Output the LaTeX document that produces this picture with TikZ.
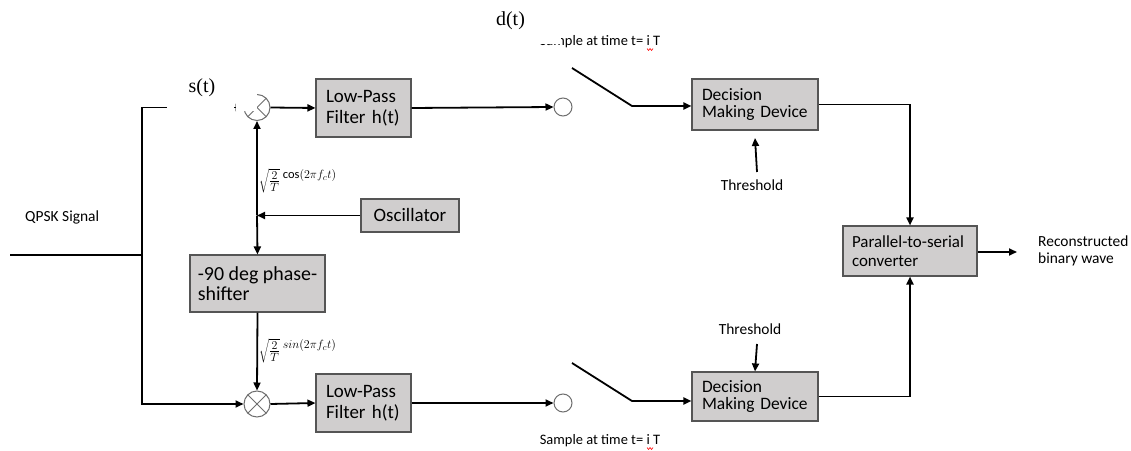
\documentclass[tikz,border=0pt]{standalone}
\usepackage{fontspec}
\setmainfont{Carlito}
\newfontfamily\timesfont{Liberation Serif}
\usetikzlibrary{arrows.meta}
\definecolor{boxfill}{RGB}{208,206,206}
\definecolor{boxedge}{RGB}{85,85,85}
\definecolor{circedge}{RGB}{110,110,110}
\newcommand{\carrier}[2]{\fontsize{17}{17}\selectfont$\sqrt{\frac{2}{T}}$\,\raisebox{7bp}{\fontsize{12.5}{13}\selectfont$#1(2\pi f_c t)$}}
\begin{document}
\begin{tikzpicture}[x=1bp,y=-1bp,
  wire/.style={line width=1.8bp,black},
  arr/.style={wire,-{Triangle[length=8bp,width=7bp]}},
  blk/.style={draw=boxedge,fill=boxfill,line width=1.1bp,inner xsep=10bp,inner ysep=0pt,align=left},
  mult/.style={circle,draw=circedge,fill=white,line width=1bp,minimum size=26bp,inner sep=0pt,
    path picture={\draw[circedge,line width=1bp]
      (path picture bounding box.north west) -- (path picture bounding box.south east)
      (path picture bounding box.north east) -- (path picture bounding box.south west);}},
  tap/.style={circle,draw=circedge,fill=white,line width=1bp,minimum size=18bp,inner sep=0pt},
  cover/.style={fill=white,draw=none},
  lbl/.style={inner sep=0pt,font=\fontsize{15.5}{17}\selectfont},
  smp/.style={inner sep=0pt,font=\fontsize{14.5}{16}\selectfont},
  sig/.style={inner sep=0pt,font=\timesfont\fontsize{20}{22}\selectfont},
  eq/.style={inner sep=0pt,anchor=west},
  squig/.style={red,line width=0.6bp}
]
\useasboundingbox (0,0) rectangle (1131,451);

% blocks
\node[mult] (mulT) at (257,107.5) {};
\node[mult] (mulB) at (257,404) {};
\node[blk,minimum width=95bp,minimum height=58bp,text width=75bp,font=\fontsize{19}{21}\selectfont] (lpfT) at (363.5,108) {Low-Pass\\Filter h(t)};
\node[blk,minimum width=95bp,minimum height=58bp,text width=75bp,font=\fontsize{19}{21}\selectfont] (lpfB) at (363.5,403) {Low-Pass\\Filter h(t)};
\node[tap] (smpT) at (563,107) {};
\node[tap] (smpB) at (563,403) {};
\node[blk,minimum width=126bp,minimum height=51bp,text width=106bp,font=\fontsize{17.5}{18}\selectfont] (decT) at (755,104.5) {Decision\\Making Device};
\node[blk,minimum width=126bp,minimum height=49bp,text width=106bp,font=\fontsize{17.5}{18}\selectfont] (decB) at (755,396.5) {Decision\\Making Device};
\node[blk,minimum width=134bp,minimum height=50bp,text width=116bp,inner xsep=9bp,font=\fontsize{17}{19}\selectfont] (p2s) at (910,251) {Parallel-to-serial\\converter};
\node[blk,minimum width=98bp,minimum height=33bp,inner xsep=0pt,align=center,font=\fontsize{19}{21}\selectfont] (osc) at (410,215.5) {Oscillator};
\node[blk,minimum width=135bp,minimum height=57bp,inner xsep=0pt,font=\fontsize{20}{20}\selectfont] (phase) at (257.5,283.5) {-90 deg phase-\\shifter};

% coordinates
\coordinate (inA) at (10,255);
\coordinate (jIn) at (142,255);
\coordinate (topIn) at (142,107.5);
\coordinate (inB) at (142,404);
\coordinate (jn) at (257,215.5);
\coordinate (swT1) at (572,68);
\coordinate (swT2) at (632,106);
\coordinate (swB1) at (572,363);
\coordinate (swB2) at (632,401);
\coordinate (thT) at (757,172);
\coordinate (thB) at (757,344);
\coordinate (out) at (1017,252);

% connectors
\draw[wire] (inA) -- (jIn);
\draw[wire,{Triangle[length=8bp,width=7bp]}-{Triangle[length=8bp,width=7bp]}] (mulT.west) -- (topIn) -- (inB) -- (mulB.west);
\draw[arr] (mulT.east) -- (lpfT.west);
\draw[arr] (mulB.east) -- (lpfB.west);
\draw[arr] (lpfT.east) -- (smpT.west);
\draw[arr] (lpfB.east) -- (smpB.west);
\draw[arr] (jn) -- (mulT.south);
\draw[arr] (jn) -- (phase.north);
\draw[arr] (osc.west) -- (jn);
\draw[arr] (phase.south) -- (mulB.north);
\draw[arr] (swT1) -- (swT2) -- (decT.west |- swT2);
\draw[arr] (swB1) -- (swB2) -- (decB.west |- swB2);
\draw[arr] (thT) -- (decT.south |- 0,138);
\draw[arr] (thB) -- (decB.north);
\draw[arr] (decT.east) -| (p2s.north);
\draw[arr] (decB.east) -| (p2s.south);
\draw[arr] (p2s.east |- out) -- (out);

% sampling labels
\node[smp,anchor=base] (smpTl) at (600,46) {Sample at time t= i T};
\node[smp,anchor=base] (smpBl) at (600,445) {Sample at time t= i T};
\draw[squig] (647,48.5) -- (648.5,50.5) -- (650,48.5) -- (651.5,50.5) -- (653,48.5);
\draw[squig] (647,447.5) -- (648.5,449.5) -- (650,447.5) -- (651.5,449.5) -- (653,447.5);

% covers (white areas hiding parts of the drawing, as in the picture)
\path[cover] (167,66) rectangle (234,111.5);
\path[cover] (236.3,88) rectangle (256.5,111.5);
\path[cover] (459,0) rectangle (561,44);

% labels
\node[sig,anchor=base] (st) at (202,93) {s(t)};
\node[sig,anchor=base] (dt) at (510.5,26) {d(t)};
\node[lbl,anchor=base] (thTl) at (752,191) {Threshold};
\node[lbl,anchor=base] (thBl) at (750,335) {Threshold};
\node[lbl,anchor=base west] (qpsk) at (25,222) {QPSK Signal};
\node[lbl,anchor=west,align=left] (rec) at (1038,251) {Reconstructed\\binary wave};
\node[eq] (eqT) at (259,181) {\carrier{\cos}{}};
\node[eq] (eqB) at (259,351) {\carrier{sin}{}};
\end{tikzpicture}
\end{document}
